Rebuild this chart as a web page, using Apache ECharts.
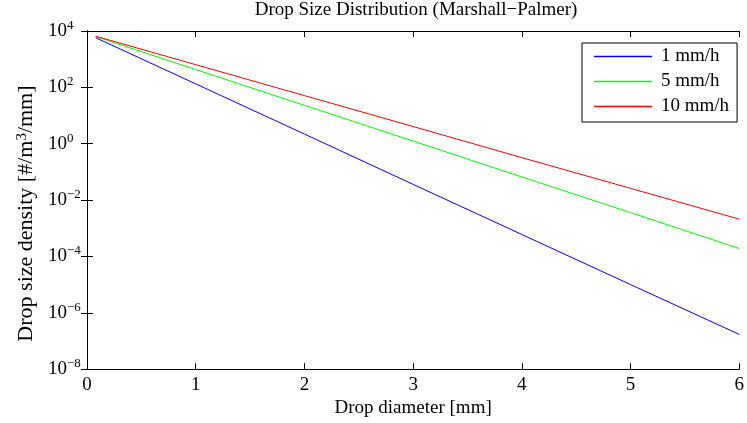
<!DOCTYPE html>
<html>
<head>
<meta charset="utf-8">
<script src="https://cdn.jsdelivr.net/npm/echarts@6/dist/echarts.min.js"></script>
<style>
html,body{margin:0;padding:0;background:#fff;}
#c{width:747px;height:423px;}
</style>
</head>
<body>
<div id="c"></div>
<script>
// Drop diameter [mm]
const diameters = [0.08, 1, 2, 3, 4, 5, 6];
// Drop size density [#/m^3/mm]
const rain1 = [5760, 133, 2.2, 0.036, 6.0e-4, 1.0e-5, 1.7e-7];
const rain5 = [6330, 429, 23, 1.24, 0.066, 3.6e-3, 1.9e-4];
const rain10 = [6540, 638, 51, 4.07, 0.32, 0.026, 2.1e-3];
const seriesNames = ['1 mm/h', '5 mm/h', '10 mm/h'];
const seriesColors = ['#0000ff', '#00ff00', '#ff0000'];
const xTicks = [0, 1, 2, 3, 4, 5, 6];
const yTickExponents = [-8, -6, -4, -2, 0, 2, 4];

const FONT = 'Liberation Serif';
const chart = echarts.init(document.getElementById('c'), null, {renderer: 'canvas'});

function pairs(ys) { return diameters.map((d, i) => [d, ys[i]]); }

const supRich = {
  b: {fontFamily: FONT, fontSize: 19, color: '#000', lineHeight: 24},
  s: {fontFamily: FONT, fontSize: 13, color: '#000', lineHeight: 12, verticalAlign: 'top'}
};

function yLabel(v) {
  const e = Math.round(Math.log10(v));
  if (!yTickExponents.includes(e)) return '';
  const es = e < 0 ? '\u2212' + (-e) : String(e);
  return '{b|10}{s|' + es + '}';
}

const axisLineStyle = {show: true, lineStyle: {color: '#000', width: 1}};
const tickStyle = {show: true, inside: true, length: 6, lineStyle: {color: '#000'}};

const dataSeries = [rain1, rain5, rain10].map((ys, i) => ({
  name: seriesNames[i], type: 'line', data: pairs(ys), showSymbol: false, symbol: 'none',
  itemStyle: {color: seriesColors[i]},
  lineStyle: {color: seriesColors[i], width: 1}
}));

const option = {
  backgroundColor: '#fff',
  animation: false,
  title: {
    text: 'Drop Size Distribution (Marshall\u2212Palmer)',
    left: 416, textAlign: 'center', top: 0, padding: [1, 0, 0, 0],
    textStyle: {fontFamily: FONT, fontSize: 19, fontWeight: 'normal', color: '#000'}
  },
  legend: {
    data: seriesNames.map((n, i) => ({name: n, icon: 'rect', itemStyle: {color: seriesColors[i], borderWidth: 0}})),
    orient: 'vertical',
    left: 582, top: 43,
    padding: [3, 8, 5, 12],
    itemGap: 4,
    itemWidth: 58, itemHeight: 1.5,
    borderColor: '#000', borderWidth: 1, borderRadius: 0,
    backgroundColor: '#fff',
    textStyle: {fontFamily: FONT, fontSize: 19, color: '#000', lineHeight: 21, padding: [0, 0, 0, 4], width: 68}
  },
  grid: {left: 87, right: 1.5, top: 31, bottom: 52, containLabel: false},
  xAxis: [{
    type: 'value', min: 0, max: 6, interval: 1,
    name: 'Drop diameter [mm]', nameLocation: 'middle', nameGap: 27,
    nameTextStyle: {fontFamily: FONT, fontSize: 19, color: '#000'},
    axisLine: axisLineStyle, axisTick: tickStyle,
    axisLabel: {fontFamily: FONT, fontSize: 19, color: '#000', margin: 6,
      formatter: v => xTicks.includes(v) ? String(v) : ''},
    splitLine: {show: false}
  }, {
    type: 'value', min: 0, max: 6, interval: 1, position: 'top',
    axisLine: axisLineStyle, axisTick: tickStyle,
    axisLabel: {show: false}, splitLine: {show: false}
  }],
  yAxis: [{
    type: 'log', logBase: 10, min: 1e-8, max: 1e4, interval: 2,
    name: 'Drop size density [#/m{sup|3}/mm]', nameLocation: 'middle', nameGap: 50,
    nameTextStyle: {fontFamily: FONT, fontSize: 22, color: '#000', padding: [0, 27, 0, 0],
      rich: {sup: {fontFamily: FONT, fontSize: 15, color: '#000', lineHeight: 12, verticalAlign: 'top'}}},
    axisLine: axisLineStyle, axisTick: tickStyle,
    axisLabel: {align: 'left', margin: 39, formatter: yLabel, rich: supRich},
    splitLine: {show: false}
  }, {
    type: 'log', logBase: 10, min: 1e-8, max: 1e4, interval: 2, position: 'right',
    axisLine: axisLineStyle, axisTick: tickStyle,
    axisLabel: {show: false}, splitLine: {show: false}
  }],
  series: dataSeries
};
chart.setOption(option);
</script>
</body>
</html>
